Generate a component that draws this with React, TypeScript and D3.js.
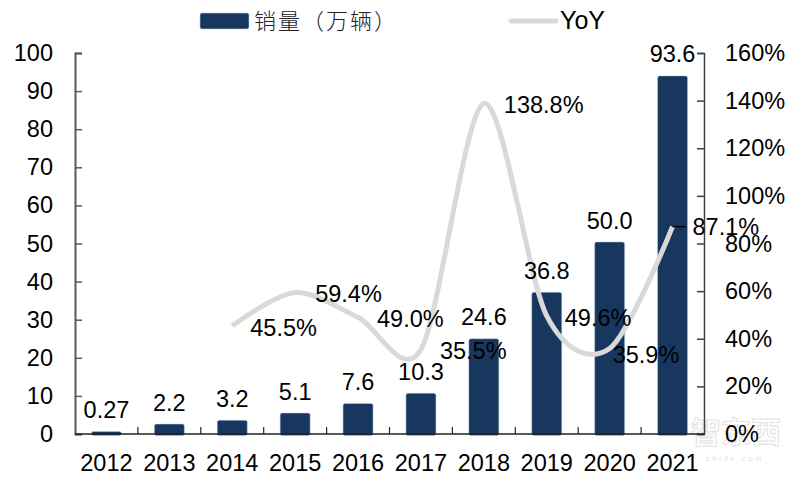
import { useEffect, useRef } from "react";
import * as d3 from "d3";

const WIDTH = 800;
const HEIGHT = 478;
const MARGIN = { top: 53, right: 96, bottom: 44, left: 75 };
const FONT = "'Liberation Sans', Arial, sans-serif";
const FONT_SIZE = 23.5;

const YEARS = ["2012", "2013", "2014", "2015", "2016", "2017", "2018", "2019", "2020", "2021"];
const SALES = [0.27, 2.2, 3.2, 5.1, 7.6, 10.3, 24.6, 36.8, 50.0, 93.6];
const SALES_LABELS = ["0.27", "2.2", "3.2", "5.1", "7.6", "10.3", "24.6", "36.8", "50.0", "93.6"];
const YOY_YEARS = ["2014", "2015", "2016", "2017", "2018", "2019", "2020", "2021"];
const YOY = [45.5, 59.4, 49.0, 35.5, 138.8, 49.6, 35.9, 87.1];
// label nudges from each line point, hand placed like the original
const YOY_DX = [18, 20, 19, 19, 20, 18, 3, 20];
const YOY_DY = [2, 1, 2, 2, 2, 2, 6, 0];

export default function App() {
  const leftRef = useRef<SVGGElement>(null);
  const rightRef = useRef<SVGGElement>(null);

  const innerW = WIDTH - MARGIN.left - MARGIN.right;
  const y0 = HEIGHT - MARGIN.bottom;

  const x = d3.scaleBand().domain(YEARS).range([MARGIN.left, MARGIN.left + innerW]);
  const yLeft = d3.scaleLinear().domain([0, 100]).range([y0, MARGIN.top]);
  const yRight = d3.scaleLinear().domain([0, 160]).range([y0, MARGIN.top]);
  const cx = (year: string) => (x(year) ?? 0) + x.bandwidth() / 2;

  const line = d3
    .line<number>()
    .x((_, i) => cx(YOY_YEARS[i]))
    .y((d) => yRight(d))
    .curve(d3.curveCardinal.tension(0.1));

  useEffect(() => {
    const left = d3
      .select(leftRef.current!)
      .call(d3.axisLeft(yLeft).ticks(10).tickSize(-7).tickSizeOuter(-7).tickPadding(22));
    left.selectAll("path").attr("stroke", "#595959").attr("stroke-width", 2);
    left.selectAll("line").attr("stroke", "#595959").attr("stroke-width", 1.5);
    left.selectAll("text").attr("font-size", FONT_SIZE).attr("font-family", FONT).attr("fill", "#000");

    const right = d3
      .select(rightRef.current!)
      .call(
        d3
          .axisRight(yRight)
          .ticks(8)
          .tickSize(-7)
          .tickSizeOuter(-7)
          .tickPadding(21)
          .tickFormat((d) => `${d}%`)
      );
    right.selectAll("path").attr("stroke", "#404040").attr("stroke-width", 1.5);
    right.selectAll("line").attr("stroke", "#404040").attr("stroke-width", 1.5);
    right.selectAll("text").attr("font-size", FONT_SIZE).attr("font-family", FONT).attr("fill", "#000");
  }, []);

  return (
    <svg
      width={WIDTH}
      height={HEIGHT}
      viewBox={`0 0 ${WIDTH} ${HEIGHT}`}
      style={{ position: "absolute", left: 0, top: 0, background: "#fff" }}
      fontFamily={FONT}
      fontSize={FONT_SIZE}
    >
      {/* watermark, sits under everything */}
      <text
        x={736}
        y={443}
        textAnchor="middle"
        fontFamily="'Noto Sans CJK SC'"
        fontSize={30}
        fontWeight={700}
        fill="#fff"
        stroke="#e2e2e2"
        strokeWidth={1}
      >
        智东西
      </text>
      <text x={735} y={461} textAnchor="middle" fontSize={7} letterSpacing={3} fill="#dcdcdc">
        zhidx.com
      </text>

      {/* legend */}
      <rect x={200} y={13} width={49} height={16} rx={2} fill="#17375e" stroke="#b8cce4" strokeWidth={0.6} />
      <text x={254} y={29} fontFamily="'Noto Sans CJK SC'" fontSize={22} fontWeight={300} letterSpacing={2} fill="#222">
        销量（万辆）
      </text>
      <line x1={511} x2={556} y1={21} y2={21} stroke="#d9d9d9" strokeWidth={5} strokeLinecap="round" />
      <text x={560} y={29} fontSize={25}>YoY</text>

      {SALES.map((v, i) => (
        <rect
          key={YEARS[i]}
          x={cx(YEARS[i]) - 15}
          y={yLeft(v) - 1.5}
          width={30}
          height={y0 - yLeft(v) + 3}
          rx={2}
          fill="#17375e"
          stroke="#b8cce4"
          strokeWidth={0.5}
        />
      ))}

      <path d={line(YOY) ?? ""} fill="none" stroke="#d9d9d9" strokeWidth={5} />

      <g ref={leftRef} transform={`translate(${MARGIN.left},0)`} />
      <g ref={rightRef} transform={`translate(${MARGIN.left + innerW},0)`} />

      {/* bottom axis, ticks sit between the categories */}
      <line x1={MARGIN.left} x2={MARGIN.left + innerW} y1={y0} y2={y0} stroke="#222" strokeWidth={1.5} />
      {YEARS.slice(1).map((year) => (
        <line key={year} x1={x(year)} x2={x(year)} y1={y0} y2={y0 - 7} stroke="#222" strokeWidth={1.2} />
      ))}
      {YEARS.map((year) => (
        <text key={year} x={cx(year)} y={471} textAnchor="middle">
          {year}
        </text>
      ))}

      {SALES.map((v, i) => (
        <text key={YEARS[i]} x={cx(YEARS[i])} y={yLeft(v) - 15} textAnchor="middle">
          {SALES_LABELS[i]}
        </text>
      ))}

      {/* leader for the last YoY label */}
      <line
        x1={cx("2021")}
        x2={cx("2021") + 13}
        y1={yRight(87.1)}
        y2={yRight(87.1)}
        stroke="#000"
        strokeWidth={1.5}
      />
      {YOY.map((v, i) => (
        <text key={YOY_YEARS[i]} x={cx(YOY_YEARS[i]) + YOY_DX[i]} y={yRight(v) + YOY_DY[i] + 8}>
          {v.toFixed(1)}%
        </text>
      ))}
    </svg>
  );
}
